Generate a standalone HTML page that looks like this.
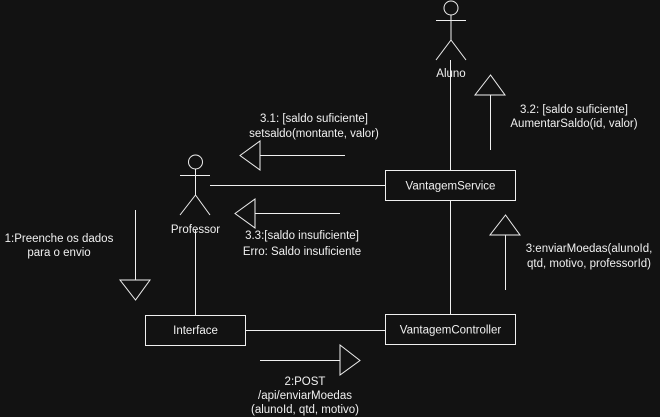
<!DOCTYPE html>
<html><head><meta charset="utf-8"><style>
html,body{margin:0;padding:0;background:#121212;}
svg{display:block}
text{font-family:"Liberation Sans",Arial,sans-serif;font-size:11.5px;fill:#f0f0f0;text-anchor:middle}
</style></head><body>
<svg width="660" height="417" viewBox="0 0 660 417" xmlns="http://www.w3.org/2000/svg">
<rect width="660" height="417" fill="#121212"/>
<g stroke="#f0f0f0" stroke-width="1" fill="none">
<circle cx="451" cy="8" r="7"/>
<line x1="451" y1="15" x2="451" y2="40"/>
<line x1="436" y1="20.5" x2="466" y2="20.5"/>
<line x1="451" y1="40" x2="436" y2="60"/>
<line x1="451" y1="40" x2="466" y2="60"/>
<circle cx="195.5" cy="162" r="7"/>
<line x1="195.5" y1="169" x2="195.5" y2="195"/>
<line x1="180" y1="175.5" x2="210" y2="175.5"/>
<line x1="195.5" y1="195" x2="180" y2="215"/>
<line x1="195.5" y1="195" x2="210" y2="215"/>
<rect x="385.5" y="170.5" width="130" height="30"/>
<rect x="145.5" y="315.5" width="100" height="30"/>
<rect x="385.5" y="314.5" width="130" height="30"/>
<line x1="450.5" y1="60" x2="450.5" y2="170"/>
<line x1="210" y1="185.5" x2="385" y2="185.5"/>
<line x1="450.5" y1="201" x2="450.5" y2="314"/>
<line x1="195.5" y1="230" x2="195.5" y2="315"/>
<line x1="246" y1="330.5" x2="385" y2="330.5"/>
<line x1="260" y1="155.5" x2="345" y2="155.5"/>
<polygon points="240,155.5 260,141 260,170"/>
<line x1="255" y1="213.5" x2="340" y2="213.5"/>
<polygon points="235,213.5 255,199 255,228"/>
<line x1="490.5" y1="95" x2="490.5" y2="150"/>
<polygon points="490.5,75 475,95 505,95"/>
<line x1="505.5" y1="235" x2="505.5" y2="290"/>
<polygon points="505.5,215 490,235 520,235"/>
<line x1="135.5" y1="210" x2="135.5" y2="280"/>
<polygon points="135.5,300 120,280 150,280"/>
<line x1="260" y1="360.5" x2="340" y2="360.5"/>
<polygon points="360,360.5 340,345 340,375"/>
</g>
<text x="451" y="77">Aluno</text>
<text x="195.5" y="233">Professor</text>
<text x="450.5" y="189.5">VantagemService</text>
<text x="195.5" y="334">Interface</text>
<text x="450.5" y="333.5">VantagemController</text>
<text x="314" y="122">3.1: [saldo suficiente]</text>
<text x="314" y="137">setsaldo(montante, valor)</text>
<text x="574" y="113">3.2: [saldo suficiente]</text>
<text x="574" y="127">AumentarSaldo(id, valor)</text>
<text x="302" y="239">3.3:[saldo insuficiente]</text>
<text x="302" y="255">Erro: Saldo insuficiente</text>
<text x="589" y="252">3:enviarMoedas(alunoId,</text>
<text x="589" y="267">qtd, motivo, professorId)</text>
<text x="59" y="242">1:Preenche os dados</text>
<text x="59" y="256">para o envio</text>
<text x="305" y="385">2:POST</text>
<text x="305" y="399">/api/enviarMoedas</text>
<text x="305" y="413">(alunoId, qtd, motivo)</text>
</svg>
</body></html>
